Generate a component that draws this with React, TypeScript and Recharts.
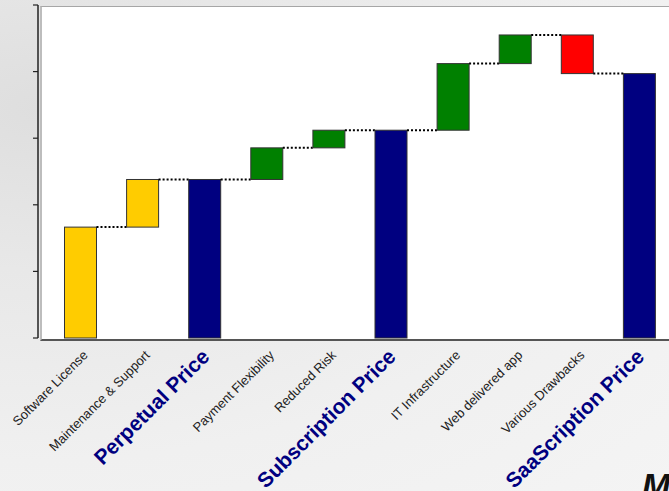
import { BarChart, Bar, XAxis, YAxis } from 'recharts';

// categories and step amounts (totals have no step)
const categories = [
  'Software License',
  'Maintenance & Support',
  'Perpetual Price',
  'Payment Flexibility',
  'Reduced Risk',
  'Subscription Price',
  'IT Infrastructure',
  'Web delivered app',
  'Various Drawbacks',
  'SaaScription Price',
];
const steps = [33.3, 14.3, 0, 9.5, 5.3, 0, 20.0, 8.6, -11.6, 0];
const isTotal = [false, false, true, false, false, true, false, false, false, true];
const barColors = [
  '#FFCC00', '#FFCC00', '#000080', '#008000', '#008000',
  '#000080', '#008000', '#008000', '#FF0000', '#000080',
];
const yTicks = [0, 20, 40, 60, 80, 100];

// waterfall: each bar is a [low, high] range
const data = (() => {
  let level = 0;
  return categories.map((name, i) => {
    let range: [number, number];
    if (isTotal[i]) {
      range = [0, level];
    } else {
      const next = level + steps[i];
      range = [Math.min(level, next), Math.max(level, next)];
      level = next;
    }
    return { name, range };
  });
})();

const FONT = '"Liberation Sans", Arial, sans-serif';

// right edges of the bars already drawn, so the next bar can draw its dotted connector
const prevRight: number[] = [];

function WaterfallBar(props: any) {
  const { x, y, width, height, index } = props;
  prevRight[index] = x + width;
  // the level carried over from the previous bar: bottom of a rising step, top otherwise
  const joinY = !isTotal[index] && steps[index] > 0 ? y + height : y;
  return (
    <g>
      {index > 0 && prevRight[index - 1] != null && (
        <line
          x1={prevRight[index - 1]}
          x2={x}
          y1={joinY}
          y2={joinY}
          stroke="#000"
          strokeWidth={2}
          strokeDasharray="2 2"
        />
      )}
      <rect x={x} y={y} width={width} height={height} fill={barColors[index]} stroke="#333" strokeWidth={1} />
    </g>
  );
}

function CategoryTick({ x, y, payload, index }: any) {
  const big = isTotal[index];
  const ax = x + (big ? 6 : 8);
  const ay = y + (big ? 20 : 18);
  return (
    <text
      x={ax}
      y={ay}
      transform={`rotate(-45 ${ax} ${ay})`}
      textAnchor="end"
      fontFamily={FONT}
      fontSize={big ? 21 : 13}
      fontWeight={big ? 700 : 400}
      fill={big ? '#000080' : '#222'}
    >
      {payload.value}
    </text>
  );
}

// y axis shows tick marks only, no numbers
const NoLabel = () => <g />;

export default function App() {
  return (
    <div
      style={{
        position: 'absolute',
        left: 0,
        top: 0,
        width: 669,
        height: 491,
        overflow: 'hidden',
        background:
          'radial-gradient(ellipse at 6% 22%, #dedede 0%, #e8e8e8 30%, #f0f0f0 65%, #f4f4f4 100%)',
      }}
    >
      {/* white plot panel */}
      <div
        style={{
          position: 'absolute',
          left: 40,
          top: 6,
          width: 700,
          height: 332,
          background: '#fff',
          borderTop: '1px solid #a6a6a6',
          borderLeft: '2px solid #bdbdbd',
          borderBottom: '2px solid #555',
        }}
      />
      <BarChart
        width={700}
        height={491}
        data={data}
        margin={{ top: 5, right: 29.5, bottom: 0, left: 0 }}
        barSize={32}
        style={{ position: 'absolute', left: 0, top: 0 }}
      >
        <XAxis
          dataKey="name"
          interval={0}
          height={153}
          axisLine={false}
          tickLine={false}
          tickSize={0}
          tickMargin={0}
          padding={{ left: 11.5, right: 0 }}
          tick={<CategoryTick />}
        />
        <YAxis
          width={38}
          domain={[0, 100]}
          ticks={yTicks}
          interval={0}
          tick={<NoLabel />}
          tickSize={5}
          axisLine={{ stroke: '#222', strokeWidth: 1.5 }}
          tickLine={{ stroke: '#222', strokeWidth: 1.2 }}
        />
        <Bar dataKey="range" shape={<WaterfallBar />} isAnimationActive={false} />
      </BarChart>
      <span
        style={{
          position: 'absolute',
          left: 642,
          top: 468,
          fontFamily: FONT,
          fontSize: 34,
          fontWeight: 700,
          fontStyle: 'italic',
          color: '#111',
          lineHeight: 1,
        }}
      >
        M
      </span>
    </div>
  );
}
